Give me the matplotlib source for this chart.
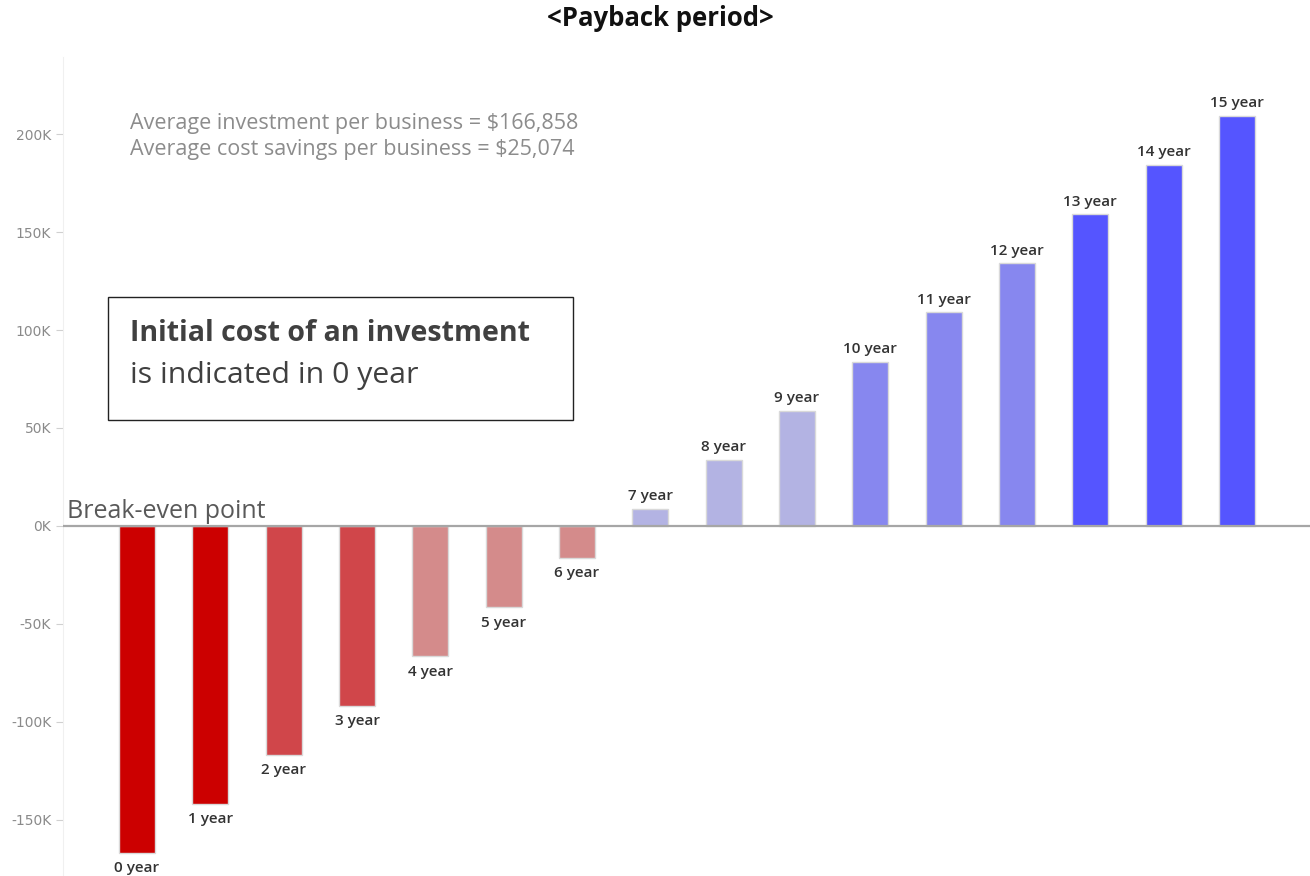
import matplotlib
matplotlib.use("Agg")
import matplotlib.pyplot as plt
from matplotlib.patches import Rectangle
from matplotlib.ticker import FuncFormatter

# Cumulative net position per business at the end of each year
years = list(range(16))
labels = [f"{y} year" for y in years]
net_value = [-166858, -141784, -116710, -91636, -66562, -41488, -16414, 8660,
             33734, 58808, 83882, 108956, 134030, 159104, 184178, 209252]
bar_colors = ["#CC0000", "#CC0000", "#D0464A", "#D0464A", "#D48B8B", "#D48B8B",
              "#D48B8B", "#B3B3E3", "#B3B3E3", "#B3B3E3", "#8787EF", "#8787EF",
              "#8787EF", "#5555FF", "#5555FF", "#5555FF"]
y_ticks = [-150000, -100000, -50000, 0, 50000, 100000, 150000, 200000]

W, H = 1310, 876
fig = plt.figure(figsize=(W / 100, H / 100), dpi=100)
ax = fig.add_axes([63 / W, 0, (W - 63) / W, (876 - 57) / H])

ax.bar(years, net_value, width=0.49, color=bar_colors,
       edgecolor="#D9D9D9", linewidth=1.0, zorder=2)

ax.set_xlim(-1.009, 15.995)
ax.set_ylim(-178600, 239300)
ax.set_yticks(y_ticks)
ax.yaxis.set_major_formatter(FuncFormatter(lambda v, p: f"{int(v / 1000)}K"))
ax.tick_params(axis="y", colors="#D0D0D0", labelcolor="#8A8A8A", labelsize=10,
               length=5, width=0.8)
ax.set_xticks([])
for s in ["top", "right", "bottom"]:
    ax.spines[s].set_visible(False)
ax.spines["left"].set_color("#F0F0F0")
ax.axhline(0, color="#A6A6A6", linewidth=1.6, zorder=3)

for x, v, lab in zip(years, net_value, labels):
    if v < 0:
        ax.annotate(lab, (x, v), xytext=(0, -6), textcoords="offset points",
                    ha="center", va="top", fontsize=11, fontweight="semibold",
                    color="#333333", family="Open Sans")
    else:
        ax.annotate(lab, (x, v), xytext=(0, 4), textcoords="offset points",
                    ha="center", va="bottom", fontsize=11, fontweight="semibold",
                    color="#333333", family="Open Sans")

fig.text(660 / W, 1 - 19 / H, "<Payback period>", ha="center", va="center",
         fontsize=18.5, fontweight="bold", color="#111111", family="Open Sans")

fig.text(130 / W, 1 - 124 / H, "Average investment per business = $166,858",
         ha="left", va="center", fontsize=15.5, color="#8C8C8C", family="Open Sans")
fig.text(130 / W, 1 - 150 / H, "Average cost savings per business = $25,074",
         ha="left", va="center", fontsize=15.5, color="#8C8C8C", family="Open Sans")

fig.text(67 / W, 1 - 512 / H, "Break-even point", ha="left", va="center",
         fontsize=18, color="#595959", family="Open Sans")

box = Rectangle((108 / W, 1 - 420 / H), (573 - 108) / W, (420 - 297) / H,
                transform=fig.transFigure, fill=False, edgecolor="#222222",
                linewidth=1.0)
fig.add_artist(box)
fig.text(130 / W, 1 - 333 / H, "Initial cost of an investment", ha="left",
         va="center", fontsize=20.5, fontweight="bold", color="#404040",
         family="Open Sans")
fig.text(130 / W, 1 - 375 / H, "is indicated in 0 year", ha="left",
         va="center", fontsize=21.8, color="#404040", family="Open Sans")

fig.savefig("out.png", dpi=100, facecolor="white")
